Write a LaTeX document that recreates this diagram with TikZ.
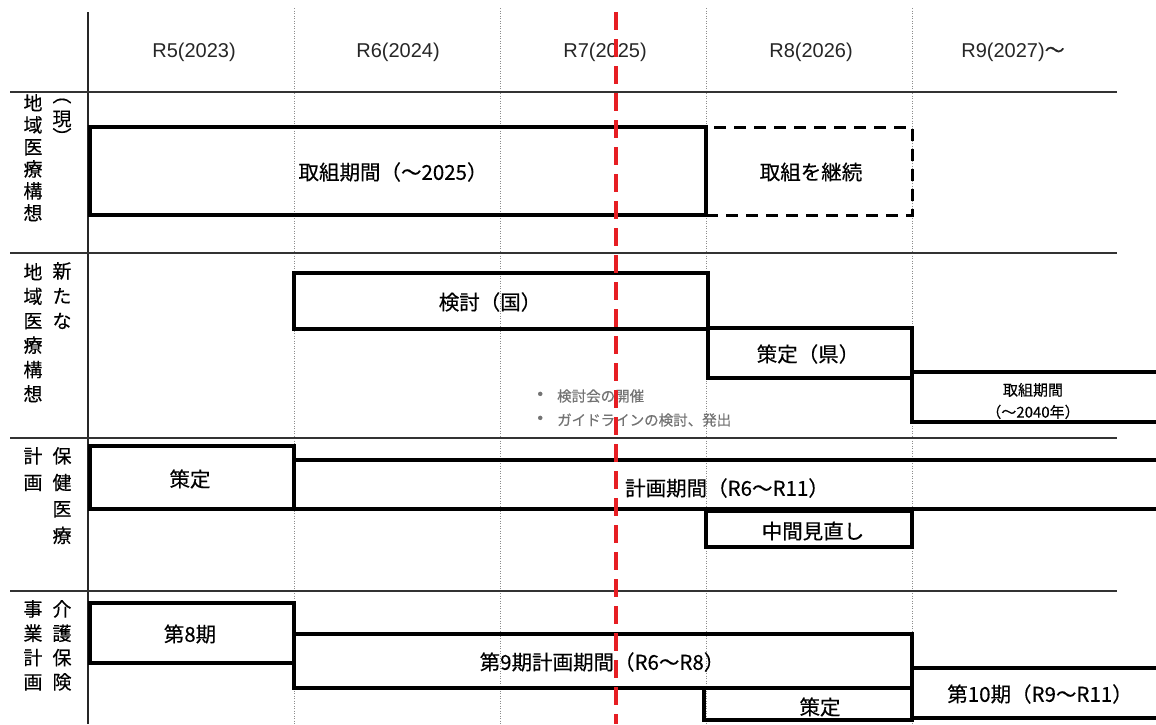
\documentclass[tikz,border=0pt]{standalone}
\usepackage{fontspec}
\setmainfont{Noto Sans CJK JP}[FakeBold=0.3]
\newfontfamily\hdrfont{Liberation Sans}
\begin{document}
\begin{tikzpicture}[x=1pt,y=-1pt,
  rowline/.style={line width=1.4pt, draw=black!80},
  colline/.style={line width=1pt, draw=black!45, dash pattern=on 1pt off 1.5pt},
  bx/.style={draw, line width=3.5pt, inner sep=0pt, outer sep=0pt},
  dbx/.style={bx, line width=3pt, dash pattern=on 12pt off 8pt},
  hdr/.style={font=\hdrfont\fontsize{20}{24}\selectfont, text=black!85, inner sep=0pt},
  txt/.style={font=\fontsize{20.5}{24}\selectfont, inner sep=0pt},
  smalltxt/.style={font=\fontsize{15}{22}\selectfont, inner sep=0pt, align=center},
  note/.style={font=\fontsize{14.5}{17}\selectfont, text=black!55, inner sep=0pt, anchor=west},
  vlab/.style={font=\fontsize{19}{#1}\selectfont, align=center, inner sep=0pt, anchor=north},
  redline/.style={line width=3.2pt, draw={rgb,255:red,230;green,30;blue,35}, dash pattern=on 18pt off 9pt},
]
\useasboundingbox (0,0) rectangle (1156,724);
\fill[white] (0,0) rectangle (1156,724);
\clip (0,0) rectangle (1156,724);

% grid
\foreach \cx in {294,500,706,912} \draw[colline] (\cx,8) -- (\cx,724);
\draw[line width=1.4pt, black!85] (88,12) -- (88,724);
\foreach \ry in {92,253,438,591} \draw[rowline] (10,\ry) -- (1117,\ry);

% headers
\node[hdr] (h5) at (194,52) {R5(2023)};
\node[hdr] (h6) at (398,52) {R6(2024)};
\node[hdr] (h7) at (605,52) {R7(2025)};
\node[hdr] (h8) at (811,52) {R8(2026)};
\node[hdr] (h9) at (1013,52) {R9(2027){\normalfont ～}};

% row labels
\node[vlab=22] (l1a) at (33,94) {地\\域\\医\\療\\構\\想};
\node[font=\fontsize{19}{20}\selectfont, inner sep=0pt] (l1p) at (62,101) {︵};
\node[font=\fontsize{19}{20}\selectfont, inner sep=0pt] (l1b) at (62,119) {現};
\node[font=\fontsize{19}{20}\selectfont, inner sep=0pt] (l1q) at (62,136) {︶};

\node[vlab=24.4] (l2a) at (33,263) {地\\域\\医\\療\\構\\想};
\node[vlab=25] (l2b) at (62,262) {新\\た\\な};

\node[vlab=26.5] (l3a) at (33,447) {計\\画};
\node[vlab=26.5] (l3b) at (62,447) {保\\健\\医\\療};

\node[vlab=24.3] (l4a) at (33,600) {事\\業\\計\\画};
\node[vlab=24.3] (l4b) at (62,600) {介\\護\\保\\険};

% row 1
\node[bx, minimum width=616, minimum height=88] (b1) at (398,171) {};
\node[dbx, minimum width=206, minimum height=88] (b2) at (809,171) {};
\node[txt] (t1) at (393,172) {取組期間（～2025）};
\node[txt] (t2) at (811,172) {取組を継続};

% row 2
\node[bx, minimum width=414, minimum height=56] (b3) at (501,301) {};
\node[bx, minimum width=204, minimum height=50] (b4) at (810,353) {};
\node[bx, minimum width=300, minimum height=50] (b5) at (1062,397) {};
\node[txt] (t3) at (490,302) {検討（国）};
\node[txt] (t4) at (808,354) {策定（県）};
\node[smalltxt] (t5) at (1033,401) {取組期間\\（～2040年）};
\node[note] (n1) at (530,396) {{\fontsize{20}{17}\selectfont ・}\hspace{7pt}検討会の開催};
\node[note] (n2) at (530,420) {{\fontsize{20}{17}\selectfont ・}\hspace{7pt}ガイドラインの検討、発出};

% row 3
\node[bx, minimum width=204, minimum height=63] (b6) at (192,477.5) {};
\node[bx, minimum width=906, minimum height=49] (b7) at (747,484.5) {};
\node[bx, minimum width=206, minimum height=36] (b8) at (809,529) {};
\node[txt] (t6) at (190,479) {策定};
\node[txt] (t7) at (727,488) {計画期間（R6～R11）};
\node[txt] (t8) at (813,531) {中間見直し};

% row 4
\node[bx, minimum width=204, minimum height=60] (b9) at (192,633) {};
\node[bx, minimum width=618, minimum height=54] (b10) at (603,661) {};
\node[bx, minimum width=208, minimum height=32] (b11) at (808,704) {};
\node[bx, minimum width=300, minimum height=50] (b12) at (1062,693) {};
\node[txt] (t9) at (190,634) {第8期};
\node[txt] (t10) at (602,662) {第9期計画期間（R6～R8）};
\node[txt] (t11) at (820,707) {策定};
\node[txt] (t12) at (1040,694) {第10期（R9～R11）};

% current date line
\draw[redline] (616,12) -- (616,724);
\end{tikzpicture}
\end{document}
